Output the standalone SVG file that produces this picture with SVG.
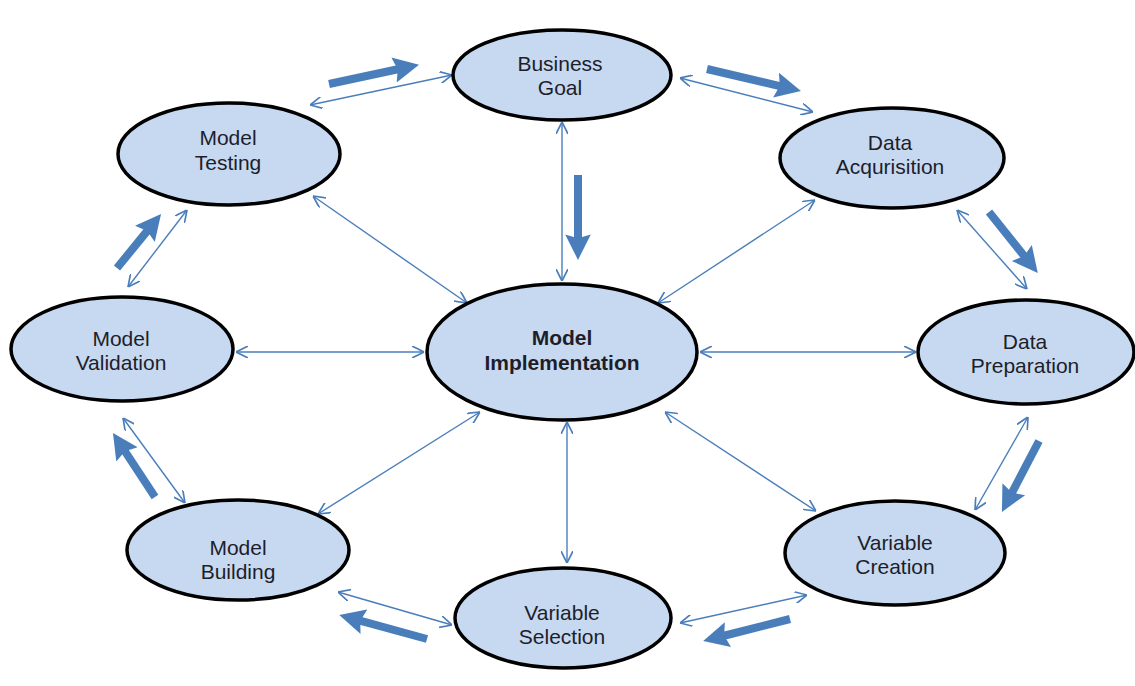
<svg xmlns="http://www.w3.org/2000/svg" width="1135" height="686" viewBox="0 0 1135 686">
<style>
.node ellipse{fill:#c6d9f1;stroke:#000;stroke-width:3.5}
.node text{font-family:"Liberation Sans",Arial,sans-serif;font-size:21px;fill:#1e1e2a;text-anchor:middle}
.node text.b{font-weight:bold}
.thin line{stroke:#4a7ebb;stroke-width:1.4;marker-start:url(#open);marker-end:url(#open)}
.thick line{stroke:#4a7ebb;stroke-width:8;marker-end:url(#head)}
</style>
<defs>
<marker id="open" viewBox="0 0 10 10" refX="10" refY="5" markerWidth="12" markerHeight="12" markerUnits="userSpaceOnUse" orient="auto-start-reverse">
<path d="M0,0 L10,5 L0,10" fill="none" stroke="#4a7ebb" stroke-width="1.4"/>
</marker>
<marker id="head" viewBox="0 0 10 10" refX="2" refY="5" markerWidth="3.2" markerHeight="3.4" orient="auto">
<path d="M0,0 L10,5 L0,10 L1.5,5 Z" fill="#4a7ebb"/>
</marker>
</defs>
<rect width="1135" height="686" fill="#fff"/>
<g id="connectors">
<g class="thin">
<line x1="310" y1="105" x2="452" y2="75"/>
<line x1="680" y1="78" x2="813" y2="112"/>
<line x1="562" y1="122" x2="562" y2="281"/>
<line x1="313" y1="196" x2="467" y2="303"/>
<line x1="815" y1="200" x2="658" y2="303"/>
<line x1="236" y1="352" x2="424" y2="352"/>
<line x1="700" y1="352" x2="916" y2="352"/>
<line x1="480" y1="412" x2="318" y2="514"/>
<line x1="567" y1="422" x2="567" y2="563"/>
<line x1="665" y1="412" x2="816" y2="511"/>
<line x1="957" y1="210" x2="1027" y2="289"/>
<line x1="1028" y1="417" x2="975" y2="510"/>
<line x1="807" y1="595" x2="680" y2="623"/>
<line x1="452" y1="625" x2="338" y2="592"/>
<line x1="185" y1="503" x2="123" y2="418"/>
<line x1="128" y1="287" x2="187" y2="210"/>
</g>
<g class="thick">
<line x1="329" y1="84" x2="399" y2="69"/>
<line x1="707" y1="69" x2="781" y2="86.3"/>
<line x1="578" y1="175" x2="578" y2="239.5"/>
<line x1="989" y1="212" x2="1025" y2="257"/>
<line x1="1039" y1="441" x2="1011.4" y2="493.8"/>
<line x1="790" y1="619" x2="723" y2="636"/>
<line x1="427" y1="639" x2="359" y2="620.4"/>
<line x1="155" y1="497" x2="124.2" y2="450.1"/>
<line x1="117" y1="268" x2="148.1" y2="229.9"/>
</g>
</g>
<g id="business-goal" class="node"><ellipse cx="562" cy="75" rx="109" ry="45"/><text x="560" y="71">Business</text><text x="560" y="95">Goal</text></g>
<g id="model-testing" class="node"><ellipse cx="229" cy="154" rx="111" ry="51"/><text x="228" y="145">Model</text><text x="228" y="170">Testing</text></g>
<g id="data-acquisition" class="node"><ellipse cx="892" cy="158" rx="112" ry="50"/><text x="890" y="150">Data</text><text x="890" y="174">Acqurisition</text></g>
<g id="model-validation" class="node"><ellipse cx="122" cy="349" rx="111" ry="52"/><text x="121" y="346">Model</text><text x="121" y="370">Validation</text></g>
<g id="model-implementation" class="node"><ellipse cx="562" cy="352" rx="135" ry="68"/><text class="b" x="562" y="345">Model</text><text class="b" x="562" y="370">Implementation</text></g>
<g id="data-preparation" class="node"><ellipse cx="1026" cy="352" rx="108" ry="52"/><text x="1025" y="349">Data</text><text x="1025" y="373">Preparation</text></g>
<g id="model-building" class="node"><ellipse cx="238" cy="550" rx="111" ry="50"/><text x="238" y="555">Model</text><text x="238" y="579">Building</text></g>
<g id="variable-creation" class="node"><ellipse cx="895" cy="553" rx="110" ry="52"/><text x="895" y="550">Variable</text><text x="895" y="574">Creation</text></g>
<g id="variable-selection" class="node"><ellipse cx="563" cy="618" rx="108" ry="50"/><text x="562" y="620">Variable</text><text x="562" y="644">Selection</text></g>
</svg>
